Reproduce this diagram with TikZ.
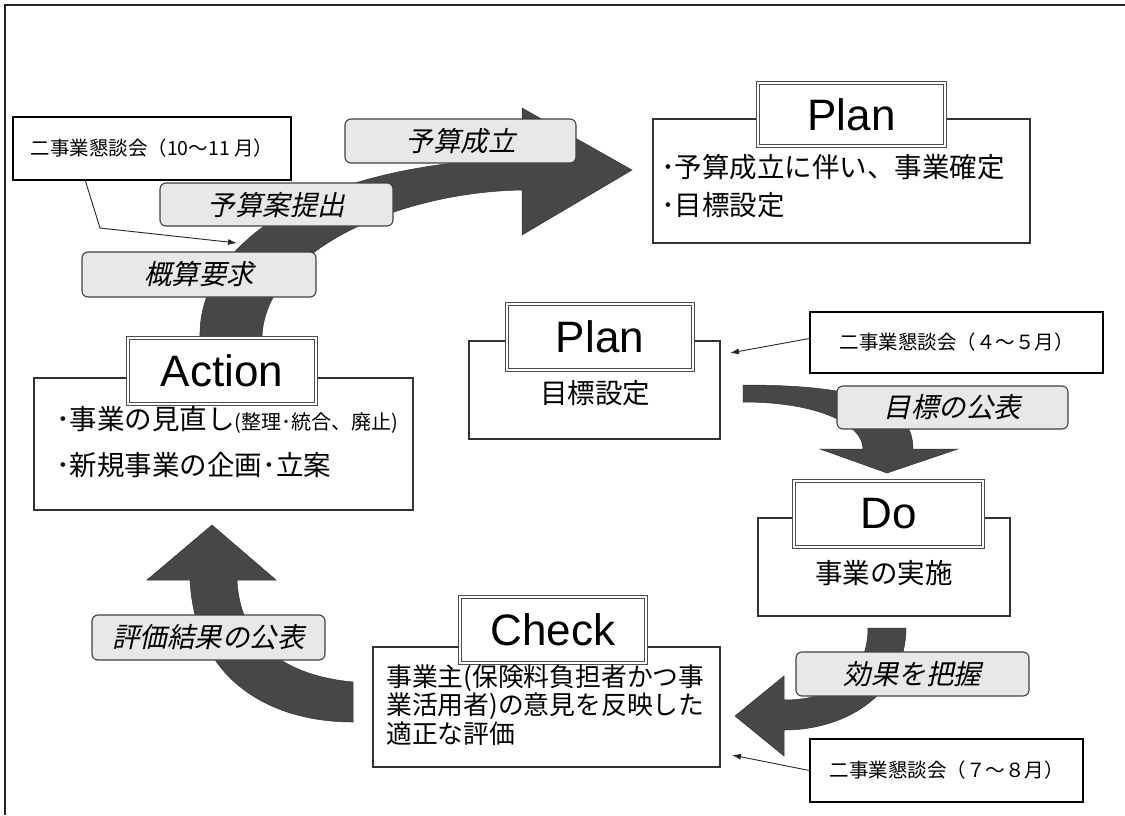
\documentclass[tikz,border=0pt]{standalone}
\usepackage{fontspec}
\setmainfont{Liberation Sans}
\newfontfamily\jp{Noto Sans CJK JP}
\newfontfamily\jpit[FakeSlant=0.22]{Noto Sans CJK JP}
\usetikzlibrary{arrows.meta}
\begin{document}
\begin{tikzpicture}[x=1pt,y=-1pt,
  meetbox/.style={draw=black, line width=1.3pt, fill=white, inner sep=0pt, font=\jp\fontsize{19.5}{22}\selectfont},
  tag/.style={draw=black!75, line width=1.1pt, rounded corners=6pt, fill=black!9, inner sep=0pt, font=\jpit\fontsize{27.5}{30}\selectfont},
  content/.style={draw=black!80, line width=1.1pt, fill=white, inner sep=0pt},
  title/.style={draw=black!70, double=white, double distance=2.2pt, line width=1pt, fill=white, inner sep=0pt, font=\fontsize{44}{48}\selectfont},
  body/.style={inner sep=0pt, font=\jp\fontsize{27.5}{30}\selectfont},
  bigarrow/.style={fill=black!72, draw=black!80, line width=0.5pt},
  link/.style={draw=black!85, line width=0.9pt, -{Latex[length=9pt,width=6pt]}},
  frame/.style={draw=black!85, line width=2pt}
]
\useasboundingbox (0,0) rectangle (1125,815);
\fill[white] (0,0) rectangle (1125,815);
% frame
\draw[frame] (5,815) -- (5,5) -- (1125,5);

% big arrows
\draw[bigarrow] (200,337) .. controls (198,250) and (300,165) .. (522,158) -- (522,108) -- (632,170) -- (522,235) -- (522,190) .. controls (400,192) and (265,250) .. (262,337) -- cycle;
\draw[bigarrow] (743,385) .. controls (850,385) and (913,400) .. (913,449) -- (958,449) -- (887,473) -- (820,449) -- (863,449) .. controls (863,425) and (820,402) .. (743,402) -- cycle;
\draw[bigarrow] (868,628) -- (906,628) .. controls (906,690) and (850,730) .. (784,730) -- (784,756) -- (735,716) -- (784,676) -- (784,700) .. controls (840,700) and (868,670) .. (868,628) -- cycle;
\draw[bigarrow] (190,580) .. controls (195,680) and (270,722) .. (353,722) -- (353,682) .. controls (280,675) and (240,640) .. (237,580) -- (276,580) -- (212,525) -- (147,580) -- cycle;

% content boxes
\node[content, minimum width=377pt, minimum height=124pt] (planAc) at (841.5,181) {};
\node[content, minimum width=251pt, minimum height=98pt] (planBc) at (594.5,390) {};
\node[content, minimum width=252pt, minimum height=98pt] (doc) at (884,567) {};
\node[content, minimum width=347pt, minimum height=120pt] (checkc) at (546.5,707) {};
\node[content, minimum width=379pt, minimum height=132pt] (actc) at (223.5,444) {};

% titles
\node[title, minimum width=187pt, minimum height=63pt] (planAt) at (851.5,114.5) {Plan};
\node[title, minimum width=186pt, minimum height=66pt] (planBt) at (600,337) {Plan};
\node[title, minimum width=189pt, minimum height=66pt] (dot) at (888.5,514) {Do};
\node[title, minimum width=186pt, minimum height=66pt] (checkt) at (553,630) {Check};
\node[title, minimum width=188pt, minimum height=66pt] (actt) at (222,371) {Action};

% body texts
\node[body, anchor=west] (pa1) at (661,167) {･予算成立に伴い、事業確定};
\node[body, anchor=west] (pa2) at (661,205) {･目標設定};
\node[body] (pb1) at (595,393) {目標設定};
\node[body] (do1) at (884,573) {事業の実施};
\node[body, anchor=west, font=\jp\fontsize{25.8}{28}\selectfont] (ck1) at (386,678) {事業主(保険料負担者かつ事};
\node[body, anchor=west, font=\jp\fontsize{25.8}{28}\selectfont] (ck2) at (386,706) {業活用者)の意見を反映した};
\node[body, anchor=west, font=\jp\fontsize{25.8}{28}\selectfont] (ck3) at (386,734) {適正な評価};
\node[body, anchor=west] (ac1) at (56,420) {･事業の見直し{\fontsize{20}{22}\selectfont (整理･統合、廃止)}};
\node[body, anchor=west] (ac2) at (56,465) {･新規事業の企画･立案};

% tags
\node[tag, minimum width=231pt, minimum height=44pt] (t1) at (460.5,141) {予算成立};
\node[tag, minimum width=233pt, minimum height=43pt] (t2) at (276.5,204.5) {予算案提出};
\node[tag, minimum width=234pt, minimum height=45pt] (t3) at (199,274.5) {概算要求};
\node[tag, minimum width=231pt, minimum height=43pt] (t4) at (952.5,407.5) {目標の公表};
\node[tag, minimum width=233pt, minimum height=44pt] (t5) at (912.5,674) {効果を把握};
\node[tag, minimum width=233pt, minimum height=45pt] (t6) at (208.5,637.5) {評価結果の公表};

% meeting boxes
\node[meetbox, minimum width=278pt, minimum height=63pt] (m1) at (152,148.5) {二事業懇談会（10〜11 月）};
\node[meetbox, minimum width=293pt, minimum height=61pt] (m2) at (956.5,342.5) {二事業懇談会（４〜５月）};
\node[meetbox, minimum width=273pt, minimum height=63pt] (m3) at (946.5,770.5) {二事業懇談会（７〜８月）};

% connectors
\coordinate (k1) at (100,228);
\coordinate (e1) at (237,243);
\coordinate (e2) at (730,353);
\coordinate (e3) at (732,755);
\draw[link] ([xshift=73pt]m1.south west) -- (k1) -- (e1);
\draw[link] ([yshift=4pt]m2.west) -- (e2);
\draw[link] (m3.west) -- (e3);
\end{tikzpicture}
\end{document}
